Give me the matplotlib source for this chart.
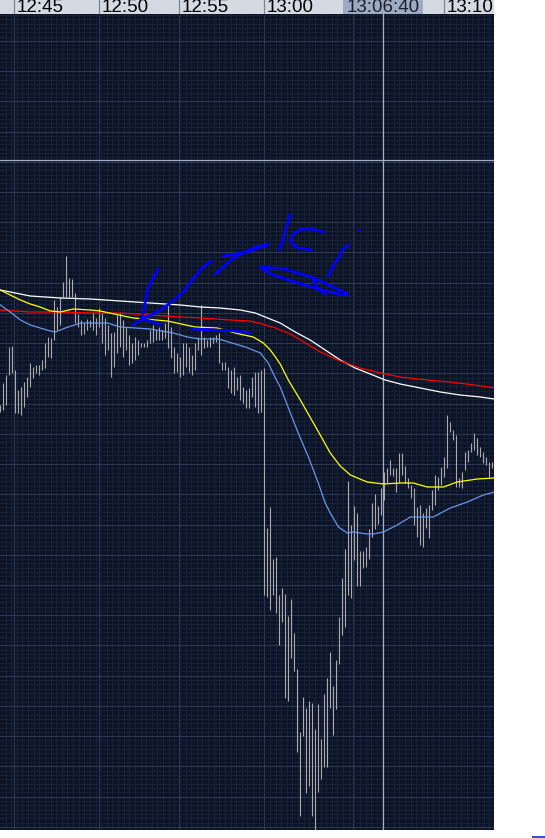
import numpy as np
from matplotlib import pyplot as plt
from matplotlib.lines import Line2D

# chart levels (row position, larger = lower on the chart)
bar_high = [405, 383, 375, 347, 346, 370, 390, 387, 382, 377, 363, 367, 365, 365, 360, 343, 337, 338, 300, 307,
            297, 282, 256, 278, 279, 293, 314, 320, 323, 319, 320, 313, 318, 308, 313, 318, 325, 333, 332, 315,
            313, 320, 327, 335, 343, 337, 340, 343, 343, 340, 330, 325, 330, 327, 330, 323, 303, 327, 347, 353,
            357, 343, 343, 347, 355, 343, 337, 305, 337, 340, 337, 337, 335, 333, 362, 362, 367, 370, 367, 377,
            375, 387, 390, 388, 377, 372, 372, 370, 368, 528, 507, 559, 557, 595, 588, 594, 616, 599, 633, 669,
            732, 697, 708, 701, 703, 729, 704, 739, 694, 678, 652, 686, 660, 617, 578, 549, 481, 525, 506, 513,
            551, 551, 547, 529, 503, 494, 506, 488, 472, 468, 460, 468, 468, 453, 453, 466, 478, 485, 488, 507,
            505, 513, 508, 505, 490, 475, 477, 467, 457, 415, 422, 430, 435, 478, 472, 452, 450, 443, 433, 438,
            447, 452, 457, 462, 462]
bar_low = [412, 410, 405, 375, 373, 413, 413, 415, 407, 397, 387, 378, 373, 375, 370, 368, 357, 358, 340, 330,
           325, 297, 297, 297, 297, 323, 327, 335, 334, 330, 327, 330, 335, 327, 343, 355, 350, 377, 367, 353,
           347, 357, 350, 365, 363, 360, 355, 347, 347, 347, 343, 342, 340, 340, 340, 338, 348, 358, 373, 372,
           377, 375, 367, 372, 375, 370, 350, 355, 348, 347, 347, 343, 342, 363, 370, 370, 388, 393, 395, 390,
           400, 403, 408, 408, 397, 407, 413, 412, 595, 597, 610, 595, 613, 645, 622, 698, 701, 658, 671, 752,
           816, 736, 793, 786, 816, 830, 792, 779, 767, 767, 708, 735, 709, 664, 635, 627, 595, 598, 560, 586,
           586, 568, 567, 559, 537, 529, 524, 515, 500, 483, 475, 476, 492, 483, 475, 483, 488, 498, 525, 537,
           545, 547, 528, 538, 510, 505, 490, 485, 477, 468, 432, 440, 487, 487, 488, 470, 462, 452, 450, 455,
           457, 463, 465, 477, 468]

# moving averages (bar position, level)
ma_white_x = [0, 10, 20, 30, 40, 50, 60, 66.7, 73.3, 80, 85, 88.3, 93.3, 98.3, 103.3, 108.3, 113.3, 118.3,
              123.3, 128.3, 133.3, 140, 146.7, 153.3, 160, 164.7]
ma_white_y = [290, 296, 298, 299, 301, 303, 305, 307, 308, 310, 313, 317, 323, 332, 340, 350, 360, 368,
              374, 380, 384, 388, 392, 395, 397, 399]
ma_red_x = [0, 10, 20, 30, 40, 50, 60, 66.7, 76.7, 83.3, 87.3, 91.7, 96.7, 101.7, 106.7, 113.3, 120, 126.7,
            133.3, 142.3, 150, 158, 164.7]
ma_red_y = [310, 312, 312, 313, 313, 315, 317, 318, 320, 321, 324, 328, 334, 343, 352, 361, 368, 373,
            377, 380, 382, 385, 388]
ma_yellow_x = [0, 3.3, 6.7, 10, 13.3, 16.7, 20, 24.3, 30, 33.3, 44.3, 55.7, 65, 72.3, 78.3, 84.3, 87.7, 90,
               91.7, 93.3, 96, 100, 105.7, 110, 113.3, 116.7, 122.3, 127.7, 133.3, 137.7, 142.3, 147.7,
               152.3, 159, 164.7]
ma_yellow_y = [290, 295, 300, 304, 307, 311, 312, 309, 310, 311, 318, 321, 327, 328, 333, 337, 343, 350,
               357, 364, 380, 400, 430, 453, 466, 475, 482, 484, 483, 483, 487, 487, 482, 479, 478]
ma_blue_x = [0, 3.3, 6.7, 10, 13.3, 16.7, 18.3, 21.7, 26.7, 35.7, 40, 50, 57.7, 62.3, 66.7, 72.7, 75, 81.7,
             86.7, 89.3, 91.7, 93.3, 95, 99.3, 102.7, 106, 108.3, 110, 112.7, 115.7, 117.7, 122.3, 124.3,
             127.7, 132.3, 136.7, 144.3, 150, 155.7, 161, 164.7]
ma_blue_y = [305, 312, 320, 325, 328, 331, 332, 328, 323, 323, 327, 329, 333, 337, 339, 339, 341, 347,
             353, 363, 378, 387, 400, 433, 457, 483, 503, 513, 527, 533, 532, 534, 534, 532, 525, 517,
             517, 508, 502, 495, 492]

# time axis
tick_pos = [4.5, 32.8, 59.6, 88, 117.7, 147.8]
tick_labels = ["12:45", "12:50", "12:55", "13:00", "", "13:10"]
cross_x = 127.6
cross_y = 160
cross_label = "13:06:40"

# hand drawn pen strokes on the chart
strokes = [
    [(44.3, 325), (47.3, 318), (48, 307), (49, 290), (51, 278), (52.7, 269)],
    [(46.7, 320), (52.3, 312), (56.7, 303), (60.7, 293), (64, 280), (67.3, 268), (70.3, 261)],
    [(47.7, 319), (53.3, 324)],
    [(64, 329), (71.7, 330), (78.3, 331), (83.3, 333)],
    [(71.7, 274), (77.7, 258), (84.3, 248), (89.3, 244)],
    [(74.3, 256), (82.3, 252), (89, 245)],
    [(96.7, 214), (95.3, 228), (94.3, 240), (93, 250)],
    [(107.7, 232), (103.7, 229), (100.3, 229), (97.7, 234), (96.7, 240), (97.7, 245), (99.3, 248),
     (103.7, 250)],
    [(116, 245), (114, 250), (113, 257), (111.3, 264), (109.3, 276)],
    [(86.7, 267), (94.7, 269), (103.7, 277), (111.7, 288), (115.7, 294), (114, 295), (106, 289), (97, 281),
     (90, 274), (86.7, 267)],
    [(103.7, 277), (106, 289), (108.3, 294)],
    [(119.7, 230), (119.9, 230.5)],
]

BG = "#0b1325"
X0, X1 = -0.1, -0.1 + 494 / 3.0
Y_TOP, Y_BOT = 14, 830


def setup_grid(ax):
    major_y = 192 + 30.23 * np.arange(-6, 22)
    minor_y = 192 + 30.23 / 7 * np.arange(-42, 154)
    minor_x = 88 + 1.875 * np.arange(-50, 45)
    ax.set_xticks(tick_pos)
    ax.set_xticks(minor_x, minor=True)
    ax.set_yticks(major_y)
    ax.set_yticks(minor_y, minor=True)
    ax.grid(True, which="minor", color="#17223a", lw=0.7)
    ax.grid(True, which="major", color="#2d3953", lw=0.8)
    ax.tick_params(which="both", length=0, labelbottom=False, labelleft=False)
    for s in ax.spines.values():
        s.set_visible(False)


def mk_plot(path):
    fig = plt.figure(figsize=(5.45, 8.38), dpi=100, facecolor="white")
    ax = fig.add_axes([0, 8 / 838, 494 / 545, 816 / 838])
    ax.set_facecolor(BG)
    setup_grid(ax)

    ax.axhline(cross_y, color="#a3afc7", lw=0.9, zorder=2)
    ax.axvline(cross_x, color="#a3afc7", lw=0.9, zorder=2)

    idx = np.arange(len(bar_high))
    ax.vlines(idx, bar_high, bar_low, color="#a8aaaf", lw=0.8, zorder=3)

    ax.plot(ma_white_x, ma_white_y, color="#ffffff", lw=0.9, zorder=4)
    ax.plot(ma_red_x, ma_red_y, color="#ff0000", lw=0.9, zorder=4)
    ax.plot(ma_yellow_x, ma_yellow_y, color="#ffff00", lw=0.9, zorder=4)
    ax.plot(ma_blue_x, ma_blue_y, color="#6a96e6", lw=0.9, zorder=4)

    for st in strokes:
        xs = [p[0] for p in st]
        ys = [p[1] for p in st]
        ax.plot(xs, ys, color="#0000ff", lw=2.0, solid_capstyle="round", solid_joinstyle="round", zorder=5)

    # limits last, ticks and lines above would stretch them otherwise
    ax.set_xlim(X0, X1)
    ax.set_ylim(Y_BOT, Y_TOP)

    # header strip with the time labels
    hdr = fig.add_axes([0, 1 - 14 / 838, 494 / 545, 14 / 838])
    hdr.set_facecolor("#d5d9e1")
    hdr.set_xticks([])
    hdr.set_yticks([])
    for s in hdr.spines.values():
        s.set_visible(False)
    for p, lab in zip(tick_pos, tick_labels):
        if not lab:
            continue
        hdr.axvline(p, color="#7e8592", lw=0.9)
        hdr.text(p + 0.9, 12.3, lab, fontsize=13.5, family="Liberation Sans", color="black",
                 ha="left", va="baseline", clip_on=True)
    hdr.axvspan(cross_x - 13.3, cross_x + 13.3, color="#9ea9c3", lw=0)
    hdr.text(cross_x, 12.3, cross_label, fontsize=13.5, family="Liberation Sans", color="#1a2030",
             ha="center", va="baseline", clip_on=True)
    hdr.set_xlim(X0, X1)
    hdr.set_ylim(14, 0)

    fig.add_artist(Line2D([533 / 545, 1.0], [1.5 / 838, 1.5 / 838], color="#3355dd", lw=1.5))

    plt.savefig(path, dpi=100, facecolor="white")
    plt.close()


if __name__ == "__main__":
    mk_plot("out.png")
